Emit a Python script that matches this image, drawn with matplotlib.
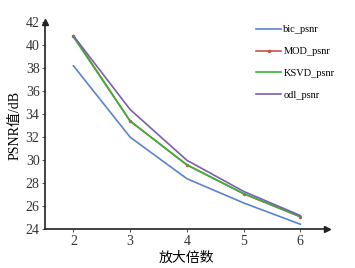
import matplotlib
matplotlib.use('Agg')
import matplotlib.pyplot as plt

# data
scales = [2, 3, 4, 5, 6]
bic_psnr = [38.2, 32.0, 28.4, 26.3, 24.45]
mod_psnr = [40.8, 33.4, 29.6, 27.1, 25.1]
ksvd_psnr = [40.7, 33.4, 29.6, 27.1, 25.1]
odl_psnr = [40.8, 34.4, 30.0, 27.3, 25.2]
yticks = [24, 26, 28, 30, 32, 34, 36, 38, 40, 42]

fonts = ['Liberation Serif', 'Noto Sans CJK SC']
plt.rcParams['font.family'] = fonts

fig = plt.figure(figsize=(3.55, 2.68), dpi=100)
ax = fig.add_axes([0.127, 0.144, 0.794, 0.774])

ax.plot(scales, bic_psnr, color='#5a82d2', lw=1.2, label='bic_psnr')
ax.plot(scales, mod_psnr, color='#c8504b', lw=1.2, marker='.', ms=3, label='MOD_psnr')
ax.plot(scales, ksvd_psnr, color='#36b436', lw=1.2, label='KSVD_psnr')
ax.plot(scales, odl_psnr, color='#7a5fae', lw=1.2, label='odl_psnr')

ax.set_xlim(1.5, 6.47)
ax.set_ylim(24, 42)
ax.set_xticks(scales)
ax.set_yticks(yticks)
ax.tick_params(labelsize=10, length=2, width=0.6, colors='#333333', pad=2)

ax.spines['top'].set_visible(False)
ax.spines['right'].set_visible(False)
ax.spines['left'].set_linewidth(1.2)
ax.spines['bottom'].set_linewidth(1.2)
ax.spines['left'].set_color('#222222')
ax.spines['bottom'].set_color('#222222')

# arrow heads on the axes
ax.plot(1, 0, '>', color='#222222', ms=4, transform=ax.transAxes, clip_on=False)
ax.plot(0, 1, '^', color='#222222', ms=4, transform=ax.transAxes, clip_on=False)

ax.set_xlabel('放大倍数', fontsize=10, labelpad=3)
ax.set_ylabel('PSNR值/dB', fontsize=10, labelpad=3)

ax.legend(loc='upper right', bbox_to_anchor=(1.06, 1.03), frameon=False,
          fontsize=7.5, handlelength=2.4, labelspacing=1.2, handletextpad=0.2)

fig.savefig('out.png', dpi=100)
